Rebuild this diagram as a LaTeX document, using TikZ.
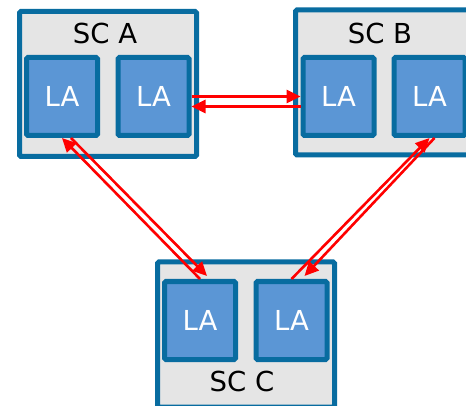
\documentclass[tikz,border=0pt]{standalone}
\usepackage{fontspec}
\setmainfont{DejaVu Sans}
\usetikzlibrary{arrows.meta}
\definecolor{scblue}{RGB}{8,108,160}
\definecolor{lafill}{RGB}{91,150,213}
\definecolor{scfill}{RGB}{229,229,229}
\tikzstyle{sc} = [
  draw=scblue,
  fill=scfill,
  line width=5pt,
  rounded corners=1.5pt,
  minimum width=177pt,
  minimum height=145pt,
  inner sep=0pt,
]
\tikzstyle{la} = [
  draw=scblue,
  fill=lafill,
  line width=5pt,
  rounded corners=1.5pt,
  minimum width=71pt,
  minimum height=78pt,
  inner sep=0pt,
  text=white,
  font=\fontsize{27.5}{30}\selectfont,
]
\tikzstyle{sctext} = [
  inner sep=0pt,
  font=\fontsize{27.5}{30}\selectfont,
]
\tikzstyle{link} = [
  draw=red,
  line width=2.6pt,
  -{Triangle[length=14pt,width=13pt]},
]

\begin{document}
\begin{tikzpicture}[x=1pt,y=-1pt]
      \useasboundingbox (0,0) rectangle (466,406);

      % Boxes
      \node[sc] (scA) at (108,84) {};
      \node[sc] (scB) at (384,82.5) {};
      \node[sc] (scC) at (246,334.5) {};

      \node[sctext] (scAname) at (105,33) {SC A};
      \node[sctext] (scBname) at (380,33) {SC B};
      \node[sctext] (scCname) at (242,381) {SC C};

      \node[la] (laA1) at (62,96.5) {LA};
      \node[la] (laA2) at (153.5,96.5) {LA};
      \node[la] (laB1) at (338.5,96.5) {LA};
      \node[la] (laB2) at (429.5,96.5) {LA};
      \node[la] (laC1) at (200,320.5) {LA};
      \node[la] (laC2) at (291.5,320.5) {LA};

      % Links
      \draw[link] (laA2.east) -- (laB1.west);
      \draw[link] ([yshift=-10pt]laB1.west) -- ([yshift=-10pt]laA2.east);

      \draw[link] (laC1.north) -- (laA1.south);
      \draw[link] ([xshift=9pt]laA1.south) -- ([xshift=7pt,yshift=3pt]laC1.north);

      \draw[link] (laC2.north) -- (laB2.south);
      \draw[link] ([xshift=5pt]laB2.south) -- ([xshift=13pt,yshift=3pt]laC2.north);
    \end{tikzpicture}
\end{document}
